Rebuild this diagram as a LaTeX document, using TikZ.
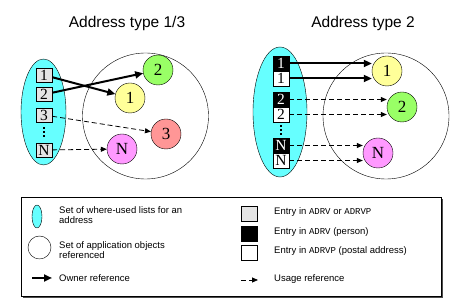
\documentclass[tikz,border=0pt]{standalone}
\usepackage{fontspec}
\setmainfont{Liberation Sans}
\setmonofont{Liberation Mono}
\newfontfamily\numfont{Liberation Serif}
\usetikzlibrary{arrows.meta}

\begin{document}
\begin{tikzpicture}[
    x=1pt, y=-1pt,
    entry/.style={rectangle, draw, minimum width=16pt, minimum height=14pt, inner sep=0pt,
                  font=\numfont\fontsize{15.5}{15.5}\selectfont},
    grayentry/.style={entry, fill=entrygray},
    blackentry/.style={entry, fill=black, text=white, minimum height=15pt},
    whiteentry/.style={entry, fill=white, minimum height=15pt},
    object/.style={circle, draw, minimum size=30pt, inner sep=0pt,
                   font=\numfont\fontsize{17}{17}\selectfont},
    owner/.style={-{Triangle[length=8pt,width=7pt]}, line width=2pt},
    usage/.style={-{Triangle[length=6pt,width=5pt]}, dash pattern=on 5pt off 3pt, line width=0.8pt},
    title/.style={font=\fontsize{15.5}{15.5}\selectfont},
    legend/.style={font=\fontsize{9.5}{10.5}\selectfont, align=left, anchor=west, inner sep=0pt}
]
\definecolor{listcyan}{RGB}{102,255,255}
\definecolor{entrygray}{RGB}{228,228,228}
\definecolor{objyellow}{RGB}{255,255,153}
\definecolor{objgreen}{RGB}{153,255,102}
\definecolor{objred}{RGB}{255,150,150}
\definecolor{objpink}{RGB}{255,153,255}

\useasboundingbox (0,0) rectangle (472,304);

% ======================
% Address type 1/3
% ======================
\node[title] (T13) at (127,23) {Address type 1/3};
\draw[fill=listcyan] (43.5,112) ellipse [x radius=22.5, y radius=53];
\draw (145.5,116) circle [radius=63];

\node[grayentry] (L1) at (44,75)   {1};
\node[grayentry] (L2) at (44,94.5) {2};
\node[grayentry] (L3) at (44,115)  {3};
\foreach \d in {127,131,135}
    \fill (42.8,\d) rectangle ++(2.4,2.4);
\node[grayentry] (LN) at (44,150)  {N};

\node[object, fill=objgreen]  (A2) at (158,70)  {2};
\node[object, fill=objyellow] (A1) at (130,98)  {1};
\node[object, fill=objred]    (A3) at (166,134) {3};
\node[object, fill=objpink]   (AN) at (122,149) {N};

\draw[owner] (L1) -- (A1);
\draw[owner] (L2) -- (A2);
\draw[usage] (L3) -- (A3);
\draw[usage] (LN) -- (AN);

% ======================
% Address type 2
% ======================
\node[title] (T2) at (363,23) {Address type 2};
\draw[fill=listcyan] (280,112) ellipse [x radius=27, y radius=65];
\draw (386,116) circle [radius=63];

\node[blackentry] (P1) at (281,63.5)  {1};
\node[whiteentry] (S1) at (281,78.5)  {1};
\node[blackentry] (P2) at (281,99.5)  {2};
\node[whiteentry] (S2) at (281,114.5) {2};
\foreach \d in {125,129,133}
    \fill (279.8,\d) rectangle ++(2.4,2.4);
\node[blackentry] (PN) at (281,145.5) {N};
\node[whiteentry] (SN) at (281,160.5) {N};

\node[object, fill=objyellow] (B1) at (387,71)  {1};
\node[object, fill=objgreen]  (B2) at (402,107) {2};
\node[object, fill=objpink]   (BN) at (378,153) {N};

\draw[owner] (P1.east) -- (P1.east -| B1.west);
\draw[owner] (S1.east) -- (S1.east -| B1.west);
\draw[usage] (P2.east) -- (P2.east -| B2.west);
\draw[usage] (S2.east) -- (S2.east -| B2.west);
\draw[usage] (PN.east) -- (PN.east -| BN.west);
\draw[usage] (SN.east) -- (SN.east -| BN.west);

% ======================
% Legend
% ======================
\fill[gray!60!black] (23,199) rectangle (443,298);
\draw[fill=white] (21,197) rectangle (441,296);

\draw[fill=listcyan] (37,216.5) ellipse [x radius=5, y radius=11.5];
\node[legend] (KList) at (59,215) {Set of where-used lists for an\\address};
\draw (39.5,247.5) circle [radius=11.5];
\node[legend] (KSet) at (59,250) {Set of application objects\\referenced};
\coordinate (OwnA) at (32,278);
\coordinate (OwnB) at (52,278);
\draw[owner] (OwnA) -- (OwnB);
\node[legend] (KOwn) at (59,278) {Owner reference};

\node[grayentry, minimum height=15pt]  (KG) at (249,213.5) {};
\node[legend] at (274,212) {Entry in \texttt{\fontsize{9}{9}\selectfont ADRV} or \texttt{\fontsize{9}{9}\selectfont ADRVP}};
\node[blackentry] (KB) at (249,233.5) {};
\node[legend] at (274,232) {Entry in \texttt{\fontsize{9}{9}\selectfont ADRV} (person)};
\node[whiteentry] (KW) at (249,252.5) {};
\node[legend] at (274,251) {Entry in \texttt{\fontsize{9}{9}\selectfont ADRVP} (postal address)};
\coordinate (UseA) at (241,280);
\coordinate (UseB) at (258,280);
\draw[usage] (UseA) -- (UseB);
\node[legend] (KUse) at (274,279) {Usage reference};

\end{tikzpicture}
\end{document}
